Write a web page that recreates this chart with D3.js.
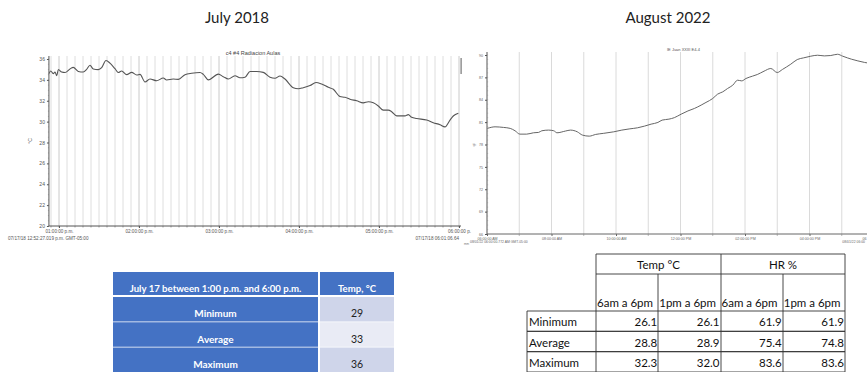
<!DOCTYPE html>
<html>
<head>
<meta charset="utf-8">
<script src="https://cdnjs.cloudflare.com/ajax/libs/d3/7.8.5/d3.min.js"></script>
<style>
  html, body { margin: 0; padding: 0; background: #fff; overflow: hidden; }
  svg { display: block; }
</style>
</head>
<body>
<svg id="chart" width="867" height="372"></svg>
<script>
// ---- July 2018 logger: minutes after 1:00 p.m. and temperature (°C) ----
const julyMinutes = [-7.5,-6.2,-4.3,-3,-1.7,-0.5,2,4.5,8.25,10.7,14.5,18.2,20.7,23.25,25.7,29.5,32,35.25,38.25,42,44.5,47,50.75,54.5,58.25,60.75,64.5,68.25,73.25,78.2,80.75,85.7,89.5,94.5,99.5,105.75,108.2,112,119.5,123.2,127,132,135.75,139.5,143.25,148.25,153.2,158.25,162,165.75,169.5,175.7,179.5,183.2,188.25,192.75,197,202,205.75,210.75,214.5,218.25,223.25,228.2,232,235.75,239.5,243.25,247,249.5,253.25,259.5,262,264.5,268.25,275.75,280.7,285.75,289.5,293.25,295.7,299.5];
const julyTemps   = [34.6,34.85,34.6,34.75,34.4,35.0,34.75,34.7,35.05,35.2,34.8,34.75,35.0,35.4,35.04,34.98,35.17,35.85,35.6,35.07,34.7,34.85,34.5,34.72,34.47,34.53,33.8,34.08,33.92,34.18,33.99,34.08,34.05,34.5,34.63,34.7,34.53,34.0,34.55,34.31,34.08,34.4,34.2,34.25,34.8,34.8,34.72,34.25,34.15,34.37,34.08,33.25,33.15,33.25,33.45,33.75,33.6,33.29,33.1,32.4,32.33,32.14,32.0,31.8,31.9,31.8,31.5,31.1,31.1,30.95,30.55,30.55,30.67,30.42,30.3,30.15,29.9,29.7,29.5,30.15,30.54,30.8];
const julyYTicks = [20,22,24,26,28,30,32,34,36];
const julyHourLabels = ["01:00:00 p.m.","02:00:00 p.m.","03:00:00 p.m.","04:00:00 p.m.","05:00:00 p.m.","06:00:00 p."];

// ---- August 2022 logger: hour of day and temperature (°F) ----
const augHours = [6.01,6.25,6.51,6.72,6.87,7.02,7.23,7.44,7.6,7.7,7.91,8.07,8.17,8.43,8.59,8.8,8.96,9.17,9.37,9.62,9.93,10.18,10.43,10.67,10.88,11.09,11.3,11.43,11.64,11.81,12.02,12.23,12.43,12.64,12.79,13.0,13.15,13.31,13.46,13.62,13.77,13.9,14.03,14.23,14.38,14.59,14.8,15.0,15.16,15.42,15.62,15.81,16.04,16.25,16.46,16.66,16.87,17.03,17.18,17.3];
const augTemps = [80.16,80.37,80.29,80.16,79.84,79.39,79.39,79.57,79.62,79.84,79.93,79.84,79.57,79.8,79.93,79.7,79.26,79.12,79.35,79.5,79.7,79.93,80.1,80.24,80.46,80.73,80.96,81.27,81.4,81.6,82.07,82.5,82.83,83.28,83.64,84.17,84.75,85.06,85.51,85.95,86.62,86.53,86.85,87.16,87.38,87.83,88.19,87.65,88.06,88.77,89.39,89.61,89.84,89.97,89.88,89.93,90.1,89.84,89.61,89.44];
const augHoursTail = [17.5,17.71,17.86,18.0,18.12];
const augTempsTail = [89.21,89.0,88.86,88.5,88.19];
const augYTicks = [66,69,72,75,78,81,84,87,90];
const augHourLabels = ["06:00:00 AM","08:00:00 AM","10:00:00 AM","12:00:00 PM","02:00:00 PM","04:00:00 PM","06"];

// ---- summary tables ----
const julyRows = ["Minimum","Average","Maximum"];
const julyValues = [29, 33, 36];
const julyHeader = ["July 17 between 1:00 p.m. and 6:00 p.m.", "Temp, °C"];

const augRows = ["Minimum","Average","Maximum"];
const augGroups = ["Temp °C","HR %"];
const augPeriods = ["6am a 6pm","1pm a 6pm","6am a 6pm","1pm a 6pm"];
const augTempMorning = [26.1, 28.8, 32.3];
const augTempAfternoon = [26.1, 28.9, 32.0];
const augHrMorning = [61.9, 75.4, 83.6];
const augHrAfternoon = [61.9, 74.8, 83.6];

const svg = d3.select("#chart");
const titleFont = "Lato, 'Open Sans', sans-serif";
const tinyFont = "'Liberation Sans', Arial, sans-serif";

// panel titles
svg.append("text").attr("x", 237).attr("y", 23).attr("text-anchor", "middle")
  .style("font-family", titleFont).style("font-size", "15px").attr("fill", "#222").text("July 2018");
svg.append("text").attr("x", 668).attr("y", 23).attr("text-anchor", "middle")
  .style("font-family", titleFont).style("font-size", "15px").attr("fill", "#222").text("August 2022");

// =================== July 2018 line chart ===================
(function () {
  const g = svg.append("g");
  const x = d3.scaleLinear().domain([0, 300]).range([59, 459]);
  const y = d3.scaleLinear().domain([20, 36]).range([226, 59]);
  const tStart = -7.55, tEnd = 301.5;

  // vertical grid every 6 minutes
  const grid = d3.range(-6, 301, 6);
  g.selectAll("line.vg").data(grid).join("line")
    .attr("x1", d => x(d)).attr("x2", d => x(d))
    .attr("y1", y(36) - 3).attr("y2", y(20))
    .attr("stroke", d => d % 60 === 0 ? "#c4c4c4" : "#dadada").attr("stroke-width", 0.9);

  // axes
  const yAxis = d3.axisLeft(y).tickValues(julyYTicks).tickSize(2).tickFormat(d3.format("d"));
  const ya = g.append("g").attr("transform", `translate(${x(tStart)},0)`).call(yAxis);
  ya.select(".domain").attr("d", `M0,${y(36) - 3}V${y(20)}`).attr("stroke", "#555");
  ya.selectAll("text").style("font-family", tinyFont).style("font-size", "5px").attr("fill", "#555").attr("x", -4);
  ya.selectAll(".tick line").attr("stroke", "#555");
  // minor y ticks
  g.selectAll("line.ym").data(d3.range(20, 36.01, 0.5)).join("line")
    .attr("x1", x(tStart) - 1).attr("x2", x(tStart)).attr("y1", d => y(d)).attr("y2", d => y(d))
    .attr("stroke", "#777").attr("stroke-width", 0.5);

  const xAxis = d3.axisBottom(x).tickValues(d3.range(0, 301, 60)).tickSize(2)
    .tickFormat((d, i) => julyHourLabels[i]);
  const xa = g.append("g").attr("transform", `translate(0,${y(20)})`).call(xAxis);
  xa.select(".domain").attr("d", `M${x(tStart)},0H${x(tEnd)}`).attr("stroke", "#555");
  xa.selectAll("text").style("font-family", tinyFont).style("font-size", "4.6px").attr("fill", "#555").attr("y", 4);
  xa.selectAll(".tick line").attr("stroke", "#555");
  g.selectAll("line.xm").data(grid).join("line")
    .attr("x1", d => x(d)).attr("x2", d => x(d)).attr("y1", y(20)).attr("y2", y(20) + 1.5)
    .attr("stroke", "#666").attr("stroke-width", 0.6);

  g.append("text").attr("x", 8).attr("y", 240)
    .style("font-family", tinyFont).style("font-size", "4.6px").attr("fill", "#555")
    .text("07/17/18 12:52:27.019 p.m. GMT-05:00");
  g.append("text").attr("x", 459).attr("y", 240).attr("text-anchor", "end")
    .style("font-family", tinyFont).style("font-size", "4.6px").attr("fill", "#555")
    .text("07/17/18 06:01:06.64");
  g.append("text").attr("x", 464).attr("y", 245)
    .style("font-family", tinyFont).style("font-size", "3px").attr("fill", "#777").text("mm");

  // axis title and chart title
  g.append("text").attr("transform", `translate(32,141) rotate(-90)`).attr("text-anchor", "middle")
    .style("font-family", tinyFont).style("font-size", "5px").attr("fill", "#555").text("°C");
  g.append("text").attr("x", 253).attr("y", 55).attr("text-anchor", "middle")
    .style("font-family", tinyFont).style("font-size", "5.5px").attr("fill", "#444").text("c4 #4 Radiacion Aulas");

  // small slider on the right
  g.append("rect").attr("x", 460.5).attr("y", 58).attr("width", 1.2).attr("height", 16).attr("fill", "#777");

  const line = d3.line().x((d, i) => x(julyMinutes[i])).y(d => y(d)).curve(d3.curveMonotoneX);
  g.append("path").datum(julyTemps).attr("d", line)
    .attr("fill", "none").attr("stroke", "#555").attr("stroke-width", 1.1);
})();

// =================== August 2022 line chart ===================
(function () {
  const g = svg.append("g");
  const x = d3.scaleLinear().domain([6, 18]).range([487, 874]);
  const y = d3.scaleLinear().domain([66, 90]).range([234, 55]);

  g.selectAll("line.vg").data(d3.range(7, 18, 1)).join("line")
    .attr("x1", d => x(d)).attr("x2", d => x(d)).attr("y1", 52).attr("y2", y(66))
    .attr("stroke", "#d6d6d6").attr("stroke-width", 0.9);

  const yAxis = d3.axisLeft(y).tickValues(augYTicks).tickSize(2).tickFormat(d3.format("d"));
  const ya = g.append("g").attr("transform", `translate(${x(6)},0)`).call(yAxis);
  ya.select(".domain").attr("d", `M0,52V${y(66)}`).attr("stroke", "#555");
  ya.selectAll("text").style("font-family", tinyFont).style("font-size", "3.6px").attr("fill", "#666").attr("x", -4);
  ya.selectAll(".tick line").attr("stroke", "#555");
  g.selectAll("line.ym").data(d3.range(66, 90.01, 0.6)).join("line")
    .attr("x1", x(6)).attr("x2", x(6) + 1.2).attr("y1", d => y(d)).attr("y2", d => y(d))
    .attr("stroke", "#888").attr("stroke-width", 0.4);

  const xAxis = d3.axisBottom(x).tickValues(d3.range(6, 18.01, 2)).tickSize(2)
    .tickFormat((d, i) => augHourLabels[i]);
  const xa = g.append("g").attr("transform", `translate(0,${y(66)})`).call(xAxis);
  xa.select(".domain").attr("d", `M${x(6)},0H880`).attr("stroke", "#666");
  xa.selectAll("text").style("font-family", tinyFont).style("font-size", "3.6px").attr("fill", "#666").attr("y", 3);
  // the last hour label sits at the window edge: keep it inside
  xa.selectAll(".tick").filter(d => d === 18).select("text")
    .attr("text-anchor", "end").attr("x", 866 - x(18));
  xa.selectAll(".tick line").attr("stroke", "#666");
  g.selectAll("line.xm").data(d3.range(7, 18, 2)).join("line")
    .attr("x1", d => x(d)).attr("x2", d => x(d)).attr("y1", y(66)).attr("y2", y(66) + 2)
    .attr("stroke", "#888").attr("stroke-width", 0.6);

  g.append("text").attr("x", 470).attr("y", 243)
    .style("font-family", tinyFont).style("font-size", "3.4px").attr("fill", "#666")
    .text("08/01/22 06:00:00.772 AM GMT-05:00");
  g.append("text").attr("x", 865).attr("y", 243).attr("text-anchor", "end")
    .style("font-family", tinyFont).style("font-size", "3.4px").attr("fill", "#666")
    .text("08/01/22 06:00");

  g.append("text").attr("transform", `translate(476,145) rotate(-90)`).attr("text-anchor", "middle")
    .style("font-family", tinyFont).style("font-size", "4px").attr("fill", "#666").text("°F");
  g.append("text").attr("x", 667).attr("y", 51)
    .style("font-family", tinyFont).style("font-size", "4px").attr("fill", "#555").text("IE Juan XXIII E4-4");

  const line = d3.line().x(d => x(d[0])).y(d => y(d[1])).curve(d3.curveMonotoneX);
  const pts = augHours.map((h, i) => [h, augTemps[i]])
    .concat(augHoursTail.map((h, i) => [h, augTempsTail[i]]));
  g.append("path").datum(pts).attr("d", line)
    .attr("fill", "none").attr("stroke", "#666").attr("stroke-width", 1);
})();

// =================== July summary table ===================
(function () {
  const g = svg.append("g");
  const cx = d3.scaleOrdinal().domain([0, 1]).range([113, 320]);
  const cw = d3.scaleOrdinal().domain([0, 1]).range([205, 74]);
  const rowY = d3.scaleBand().domain(julyRows).range([297, 372]).paddingInner(0.03);

  // header row
  g.selectAll("rect.h").data(julyHeader).join("rect")
    .attr("x", (d, i) => cx(i)).attr("y", 272).attr("width", (d, i) => cw(i)).attr("height", 23)
    .attr("fill", "#4472C4");
  g.selectAll("text.h").data(julyHeader).join("text")
    .attr("x", (d, i) => cx(i) + cw(i) / 2).attr("y", 292).attr("text-anchor", "middle")
    .style("font-family", titleFont).style("font-weight", "bold").style("font-size", "9.6px")
    .attr("fill", "#fff").text(d => d);

  // body rows
  g.selectAll("rect.l").data(julyRows).join("rect")
    .attr("x", cx(0)).attr("y", d => rowY(d)).attr("width", cw(0)).attr("height", rowY.bandwidth())
    .attr("fill", "#4472C4");
  g.selectAll("rect.v").data(julyRows).join("rect")
    .attr("x", cx(1)).attr("y", d => rowY(d)).attr("width", cw(1)).attr("height", rowY.bandwidth())
    .attr("fill", (d, i) => i === 1 ? "#E9EBF5" : "#CFD5EA");
  g.selectAll("text.l").data(julyRows).join("text")
    .attr("x", cx(0) + cw(0) / 2).attr("y", d => rowY(d) + rowY.bandwidth() - 4).attr("text-anchor", "middle")
    .style("font-family", titleFont).style("font-weight", "bold").style("font-size", "10px")
    .attr("fill", "#fff").text(d => d);
  g.selectAll("text.v").data(julyValues).join("text")
    .attr("x", cx(1) + cw(1) / 2).attr("y", (d, i) => rowY(julyRows[i]) + rowY.bandwidth() - 4)
    .attr("text-anchor", "middle")
    .style("font-family", titleFont).style("font-size", "10.5px").attr("fill", "#222").text(d => d);
})();

// =================== August summary table ===================
(function () {
  const g = svg.append("g");
  const stroke = "#333";
  const colEdges = [596, 658, 721, 783, 845];
  const col = d3.scaleBand().domain(d3.range(4)).range([596, 845]);
  const rowY = d3.scaleBand().domain(augRows).range([311, 372]);
  const font = "Lato, 'Open Sans', sans-serif";
  const seg = (x1, y1, x2, y2) => g.append("line")
    .attr("x1", x1).attr("y1", y1).attr("x2", x2).attr("y2", y2)
    .attr("stroke", stroke).attr("stroke-width", 0.9);

  // grid of the table
  seg(596, 254, 845, 254);
  seg(596, 274, 845, 274);
  [596, 721, 845].forEach(v => seg(v, 254, v, 372));
  [658, 783].forEach(v => seg(v, 274, v, 372));
  seg(527, 311, 845, 311);
  augRows.forEach(r => seg(527, rowY(r) + rowY.bandwidth(), 845, rowY(r) + rowY.bandwidth()));
  augRows.slice(1).forEach(r => seg(527, rowY(r), 845, rowY(r)));
  seg(527, 311, 527, 372);

  g.selectAll("text.grp").data(augGroups).join("text")
    .attr("x", (d, i) => (colEdges[i * 2] + colEdges[i * 2 + 2]) / 2).attr("y", 269)
    .attr("text-anchor", "middle").style("font-family", font).style("font-size", "11.5px")
    .attr("fill", "#111").text(d => d);
  g.selectAll("text.per").data(augPeriods).join("text")
    .attr("x", (d, i) => col(i) + 1).attr("y", 307)
    .style("font-family", font).style("font-size", "11.5px").attr("fill", "#111").text(d => d);

  g.selectAll("text.row").data(augRows).join("text")
    .attr("x", 529).attr("y", d => rowY(d) + rowY.bandwidth() - 5)
    .style("font-family", font).style("font-size", "11.5px").attr("fill", "#111").text(d => d);

  const cols = [augTempMorning, augTempAfternoon, augHrMorning, augHrAfternoon];
  cols.forEach((vals, c) => {
    g.selectAll(`text.c${c}`).data(vals).join("text")
      .attr("x", col(c) + col.bandwidth() - 1).attr("y", (d, i) => rowY(augRows[i]) + rowY.bandwidth() - 5)
      .attr("text-anchor", "end").style("font-family", font).style("font-size", "11.5px")
      .attr("fill", "#111").text(d => d.toFixed(1));
  });
})();
</script>
</body>
</html>
